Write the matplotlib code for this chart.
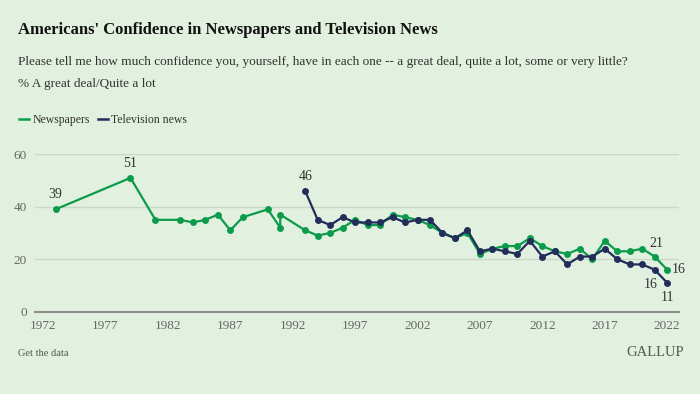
import numpy as np
import matplotlib
matplotlib.use('Agg')
import matplotlib.pyplot as plt
from matplotlib.lines import Line2D

plt.rcParams['font.family'] = ['Liberation Serif', 'DejaVu Serif']

# data
news_years = [1973, 1979, 1981, 1983, 1984, 1985, 1986, 1987, 1988, 1990, 1991, 1991,
              1993, 1994, 1995, 1996, 1997, 1998, 1999, 2000, 2001, 2002, 2003, 2004,
              2005, 2006, 2007, 2008, 2009, 2010, 2011, 2012, 2013, 2014, 2015, 2016,
              2017, 2018, 2019, 2020, 2021, 2022]
news_vals = [39, 51, 35, 35, 34, 35, 37, 31, 36, 39, 32, 37,
             31, 29, 30, 32, 35, 33, 33, 37, 36, 35, 33, 30,
             28, 30, 22, 24, 25, 25, 28, 25, 23, 22, 24, 20,
             27, 23, 23, 24, 21, 16]

tv_years = [1993, 1994, 1995, 1996, 1997, 1998, 1999, 2000, 2001, 2002, 2003, 2004,
            2005, 2006, 2007, 2008, 2009, 2010, 2011, 2012, 2013, 2014, 2015, 2016,
            2017, 2018, 2019, 2020, 2021, 2022]
tv_vals = [46, 35, 33, 36, 34, 34, 34, 36, 34, 35, 35, 30,
           28, 31, 23, 24, 23, 22, 27, 21, 23, 18, 21, 21,
           24, 20, 18, 18, 16, 11]

xticks = [1972, 1977, 1982, 1987, 1992, 1997, 2002, 2007, 2012, 2017, 2022]
yticks = [0, 20, 40, 60]

bg = '#e2f0df'
green = '#0b9b4a'
navy = '#222d5a'

fig = plt.figure(figsize=(7, 3.94), dpi=100, facecolor=bg)
ax = fig.add_axes([0.05, 0.209, 0.92, 0.3995], facecolor=bg)

ax.plot(news_years, news_vals, color=green, lw=1.6, marker='o', ms=5, mew=0, zorder=3)
ax.plot(tv_years, tv_vals, color=navy, lw=1.6, marker='o', ms=5, mew=0, zorder=4)

ax.set_xlim(1971.35, 2022.95)
ax.set_ylim(0, 60)
ax.set_xticks(xticks)
ax.set_yticks(yticks)
ax.grid(axis='y', color='#cad8c7', lw=1)
ax.set_axisbelow(True)
for s in ['top', 'right', 'left']:
    ax.spines[s].set_visible(False)
ax.spines['bottom'].set_color('#8c8c8c')
ax.spines['bottom'].set_linewidth(1.5)
ax.tick_params(axis='both', length=0, labelsize=9.5, labelcolor='#666666')
ax.tick_params(axis='x', pad=6)
ax.tick_params(axis='y', pad=6)

# point labels
lab = dict(fontsize=10, color='#333333', ha='center')
ax.annotate(str(news_vals[0]), (news_years[0], news_vals[0]), xytext=(0, 6), textcoords='offset points', va='bottom', **lab)
ax.annotate(str(news_vals[1]), (news_years[1], news_vals[1]), xytext=(0, 6), textcoords='offset points', va='bottom', **lab)
ax.annotate(str(tv_vals[0]), (tv_years[0], tv_vals[0]), xytext=(0, 6), textcoords='offset points', va='bottom', **lab)
ax.annotate(str(news_vals[-2]), (news_years[-2], news_vals[-2]), xytext=(1, 5), textcoords='offset points', va='bottom', **lab)
ax.annotate(str(news_vals[-1]), (news_years[-1], news_vals[-1]), xytext=(3, 0), textcoords='offset points', va='center',
            fontsize=10, color='#333333', ha='left')
ax.annotate(str(tv_vals[-2]), (tv_years[-2], tv_vals[-2]), xytext=(-3, -6), textcoords='offset points', va='top', **lab)
ax.annotate(str(tv_vals[-1]), (tv_years[-1], tv_vals[-1]), xytext=(0, -6), textcoords='offset points', va='top', **lab)

# titles
fig.text(18/700, 1 - 30/394, "Americans' Confidence in Newspapers and Television News",
         fontsize=12, fontweight='bold', color='#111111', va='center', ha='left')
fig.text(18/700, 1 - 62/394, "Please tell me how much confidence you, yourself, have in each one -- a great deal, quite a lot, some or very little?",
         fontsize=9.5, color='#333333', va='center', ha='left')
fig.text(18/700, 1 - 84/394, "% A great deal/Quite a lot",
         fontsize=9.5, color='#333333', va='center', ha='left')

handles = [Line2D([], [], color=green, lw=1.8), Line2D([], [], color=navy, lw=1.8)]
fig.legend(handles, ['Newspapers', 'Television news'], loc='center left',
           bbox_to_anchor=(8/700, 1 - 120/394), ncol=2, frameon=False,
           handlelength=0.9, handletextpad=0.25, columnspacing=0.7,
           prop={'size': 8.5}, labelcolor='#333333')

fig.text(18/700, 1 - 353/394, 'Get the data', fontsize=7.5, color='#555555', va='center', ha='left')
fig.text(684/700, 1 - 352/394, 'GALLUP', fontsize=10.5, color='#555555', va='center', ha='right')

fig.savefig('out.png', dpi=100, facecolor=bg)
